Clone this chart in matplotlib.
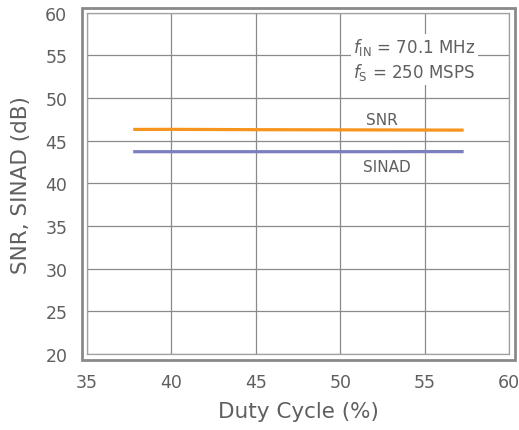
import matplotlib
matplotlib.use('Agg')
from matplotlib import pyplot as plt
from matplotlib.patches import Rectangle

duty = [37.75, 40, 42.5, 45, 47.5, 50, 52.5, 55, 57.3]
snr = [46.32, 46.33, 46.31, 46.29, 46.28, 46.27, 46.26, 46.25, 46.24]
sinad = [43.71, 43.71, 43.71, 43.71, 43.71, 43.71, 43.71, 43.72, 43.72]

xticks = [35, 40, 45, 50, 55, 60]
yticks = [20, 25, 30, 35, 40, 45, 50, 55, 60]

gray = '#5f5f5f'
W, H = 519, 431

fig = plt.figure(figsize=(W / 100, H / 100), dpi=100)
ax = fig.add_axes([86.7 / W, 1 - 355 / H, (509.3 - 86.7) / W, (355 - 13.7) / H])

ax.plot(duty, snr, color='#F7941D', lw=2.3, solid_capstyle='butt')
ax.plot(duty, sinad, color='#7B7FC0', lw=2.3, solid_capstyle='butt')

ax.set_xlim(35, 60)
ax.set_ylim(20, 60)
ax.set_xticks(xticks)
ax.set_yticks(yticks)
ax.grid(True, color='#8a8a8a', lw=0.9)
ax.tick_params(length=0, labelsize=12.5, colors=gray)
ax.tick_params(axis='x', pad=14)
ax.tick_params(axis='y', pad=14)
for s in ax.spines.values():
    s.set_color('#a0a0a0')
    s.set_linewidth(0.9)

# outer frame around the plot area
fig.add_artist(Rectangle((81.5 / W, 1 - 361 / H), (515 - 81.5) / W, (361 - 9) / H,
                         transform=fig.transFigure, fill=False,
                         edgecolor='#8a8a8a', lw=2.0))

fig.text(298 / W, 1 - 412 / H, 'Duty Cycle (%)', ha='center', va='center',
         fontsize=15.5, color=gray)
fig.text(21 / W, 1 - 185 / H, 'SNR, SINAD (dB)', ha='center', va='center',
         fontsize=15.5, color=gray, rotation=90)

ax.text(50.76, 54.57, '$f_{\\mathrm{IN}}$ = 70.1 MHz\n$f_{\\mathrm{S}}$ = 250 MSPS',
        ha='left', va='center', fontsize=12, color=gray, linespacing=1.25,
        bbox=dict(boxstyle='square,pad=0.15', facecolor='white', edgecolor='none'))
ax.text(52.47, 47.46, 'SNR', ha='center', va='center', fontsize=11, color=gray)
ax.text(52.75, 42.0, 'SINAD', ha='center', va='center', fontsize=11, color=gray)

fig.savefig('out.png', dpi=100)
